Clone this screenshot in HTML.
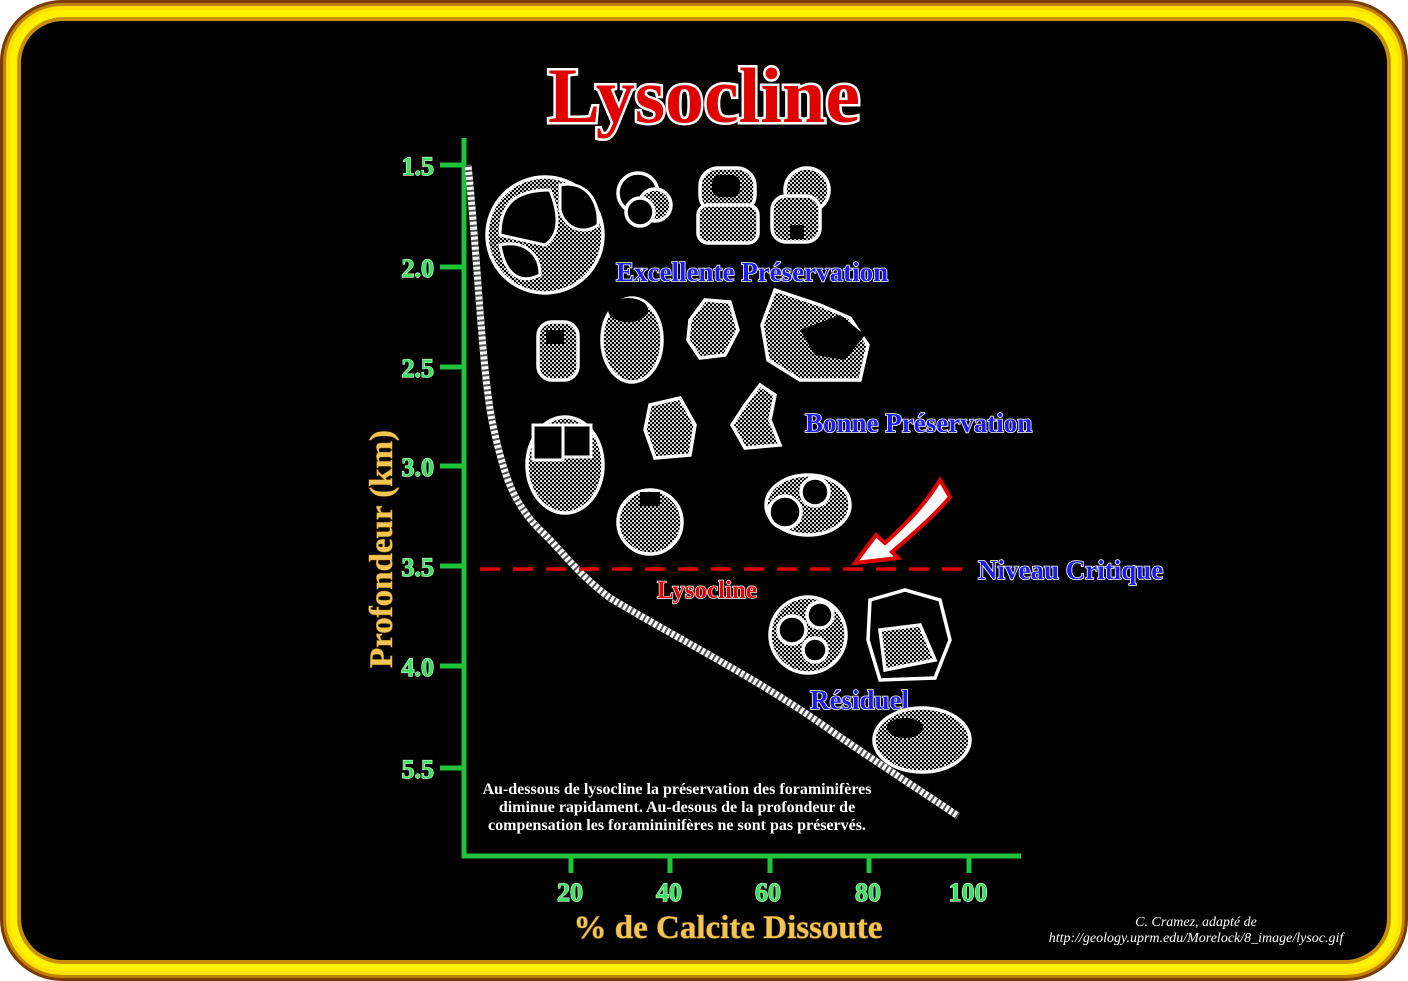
<!DOCTYPE html>
<html><head><meta charset="utf-8"><style>
html,body{margin:0;padding:0;background:#fff;width:1408px;height:981px;overflow:hidden}
svg{display:block}
.t{font-family:"Liberation Serif",serif;font-weight:bold}
.blue{fill:#1c1cf0;stroke:#fff;stroke-width:1.6;paint-order:stroke;font-size:27px}
.grn{fill:#3ee060;stroke:#d8ffd8;stroke-width:1.2;paint-order:stroke;font-size:26px}
.gold{fill:#f2c455;stroke:#7a5200;stroke-width:1;paint-order:stroke}
.f{stroke:#fff;stroke-width:3.5;fill:url(#dots)}
.fb{stroke:#fff;stroke-width:3.5;fill:#000}
</style></head><body>
<svg width="1408" height="981" viewBox="0 0 1408 981" xmlns="http://www.w3.org/2000/svg">
<defs>
<pattern id="dots" width="4" height="4" patternUnits="userSpaceOnUse">
<rect width="4" height="4" fill="#000"/><rect width="2" height="2" fill="#ddd"/><rect x="2" y="2" width="2" height="2" fill="#bbb"/>
</pattern>
</defs>
<rect x="0" y="0" width="1408" height="981" rx="62" fill="#7a3a00"/>
<rect x="3" y="3" width="1402" height="975" rx="59" fill="#c08000"/>
<rect x="6" y="6" width="1396" height="969" rx="56" fill="#ffe000"/>
<rect x="10" y="10" width="1388" height="961" rx="52" fill="#fff200"/>
<rect x="17" y="17" width="1374" height="947" rx="46" fill="#c89000"/>
<rect x="21" y="21" width="1366" height="939" rx="42" fill="#000"/>

<text x="704" y="122" text-anchor="middle" class="t" font-size="78" fill="#e00000" stroke="#fff" stroke-width="5" paint-order="stroke">Lysocline</text>

<g stroke="#1fc43a" stroke-width="5">
<line x1="464" y1="138" x2="464" y2="858"/>
<line x1="462" y1="856" x2="1021" y2="856"/>
<line x1="440" y1="165" x2="464" y2="165"/><line x1="440" y1="267" x2="464" y2="267"/>
<line x1="440" y1="367" x2="464" y2="367"/><line x1="440" y1="466" x2="464" y2="466"/>
<line x1="440" y1="566" x2="464" y2="566"/><line x1="440" y1="666" x2="464" y2="666"/>
<line x1="440" y1="768" x2="464" y2="768"/>
<line x1="571" y1="856" x2="571" y2="873"/><line x1="670" y1="856" x2="670" y2="873"/>
<line x1="770" y1="856" x2="770" y2="873"/><line x1="869" y1="856" x2="869" y2="873"/>
<line x1="969" y1="856" x2="969" y2="873"/>
</g>
<g class="t grn" text-anchor="end">
<text x="434" y="175">1.5</text><text x="434" y="277">2.0</text><text x="434" y="377">2.5</text>
<text x="434" y="476">3.0</text><text x="434" y="576">3.5</text><text x="434" y="676">4.0</text>
<text x="434" y="778">5.5</text>
</g>
<g class="t grn" text-anchor="middle" font-size="27">
<text x="570" y="901">20</text><text x="669" y="901">40</text><text x="768" y="901">60</text>
<text x="868" y="901">80</text><text x="968" y="901">100</text>
</g>
<text x="728" y="938" text-anchor="middle" class="t gold" font-size="33">% de Calcite Dissoute</text>
<text transform="translate(392,549) rotate(-90)" text-anchor="middle" class="t gold" font-size="33">Profondeur  (km)</text>

<path d="M468,165 C478,260 482,380 494,430 C505,480 515,505 540,530 C560,548 575,572 610,598 C680,640 760,680 830,730 C880,765 920,790 958,816" fill="none" stroke="#fff" stroke-width="7"/>
<path d="M468,165 C478,260 482,380 494,430 C505,480 515,505 540,530 C560,548 575,572 610,598 C680,640 760,680 830,730 C880,765 920,790 958,816" fill="none" stroke="#555" stroke-width="7" stroke-dasharray="2 3"/>

<line x1="480" y1="569" x2="972" y2="569" stroke="#e00000" stroke-width="3.5" stroke-dasharray="20 13"/>
<path d="M855,563 L876,535 L885,543 C905,525 925,505 940,480 L950,497 C935,515 912,535 892,552 L898,558 Z" fill="#fff" stroke="#e00000" stroke-width="4"/>

<g class="t blue">
<text x="616" y="281">Excellente Préservation</text>
<text x="805" y="432">Bonne Préservation</text>
<text x="978" y="579">Niveau Critique</text>
<text x="810" y="709">Résiduel</text>
</g>
<text x="657" y="598" class="t" font-size="25" fill="#e00000" stroke="#fff" stroke-width="1.4" paint-order="stroke">Lysocline</text>

<g class="t" fill="#fff" font-size="16" text-anchor="middle">
<text x="677" y="794">Au-dessous de lysocline la préservation des foraminifères</text>
<text x="677" y="812">diminue rapidament. Au-desous de la profondeur de</text>
<text x="677" y="830">compensation les foramininifères  ne sont pas préservés.</text>
</g>
<g font-family="Liberation Serif,serif" font-style="italic" fill="#fff" font-size="14" text-anchor="middle">
<text x="1196" y="926">C. Cramez, adapté de</text>
<text x="1196" y="942">http://geology.uprm.edu/Morelock/8_image/lysoc.gif</text>
</g>

<g>
<circle cx="545" cy="235" r="58" class="f"/>
<path d="M500,235 C500,200 520,190 550,190 C560,215 560,235 545,245 Z" fill="#000" stroke="#fff" stroke-width="3"/>
<path d="M560,185 C585,180 600,200 598,225 C585,235 565,230 560,210 Z" fill="#000" stroke="#fff" stroke-width="3"/>
<path d="M500,245 C520,240 540,250 540,275 C520,285 505,275 500,245 Z" fill="#000" stroke="#fff" stroke-width="3"/>
<circle cx="638" cy="193" r="20" class="fb"/><circle cx="655" cy="205" r="16" class="f"/><circle cx="640" cy="212" r="14" class="fb"/>
<rect x="700" y="168" width="55" height="45" rx="18" class="f"/><rect x="698" y="205" width="60" height="38" rx="10" class="f"/>
<rect x="712" y="175" width="28" height="22" rx="8" fill="#000"/>
<circle cx="807" cy="190" r="22" class="f"/><rect x="772" y="196" width="48" height="46" rx="14" class="f"/><rect x="790" y="225" width="14" height="14" fill="#000"/>
<rect x="538" y="322" width="40" height="58" rx="14" class="f"/><rect x="546" y="330" width="18" height="14" fill="#000"/>
<ellipse cx="632" cy="340" rx="30" ry="42" class="f"/><ellipse cx="628" cy="310" rx="20" ry="12" fill="#000"/>
<path d="M690,320 L705,300 L730,302 L738,330 L725,355 L700,358 L688,340 Z" class="f"/>
<path d="M775,290 L820,305 L850,318 L868,345 L860,380 L840,380 L800,380 L768,360 L762,325 Z" class="f"/>
<path d="M800,330 L840,315 L865,335 L845,360 L815,355 Z" fill="#000"/>
<path d="M650,405 L680,398 L695,425 L690,455 L655,458 L645,430 Z" class="f"/>
<path d="M760,385 L775,395 L770,420 L780,445 L745,448 L732,425 L745,405 Z" class="f"/>
<ellipse cx="565" cy="465" rx="38" ry="48" class="f"/><rect x="533" y="425" width="30" height="35" fill="#000" stroke="#fff" stroke-width="3"/>
<rect x="563" y="425" width="28" height="32" fill="#000" stroke="#fff" stroke-width="3"/>
<ellipse cx="650" cy="522" rx="32" ry="32" class="f"/><rect x="640" y="492" width="20" height="14" fill="#000"/>
<ellipse cx="808" cy="505" rx="42" ry="30" class="f"/><circle cx="785" cy="512" r="16" class="fb"/><circle cx="815" cy="492" r="14" class="fb"/>
<circle cx="808" cy="635" r="38" class="f"/><circle cx="792" cy="630" r="14" class="fb"/><circle cx="820" cy="615" r="13" class="fb"/><circle cx="815" cy="650" r="12" class="fb"/>
<path d="M870,600 L905,590 L940,600 L950,640 L935,678 L880,680 L868,640 Z" class="fb"/>
<path d="M880,630 L920,625 L935,660 L885,670 Z" class="f"/>
<ellipse cx="922" cy="740" rx="48" ry="32" class="f"/><ellipse cx="905" cy="728" rx="18" ry="10" fill="#000"/>
</g>
</svg>
</body></html>
